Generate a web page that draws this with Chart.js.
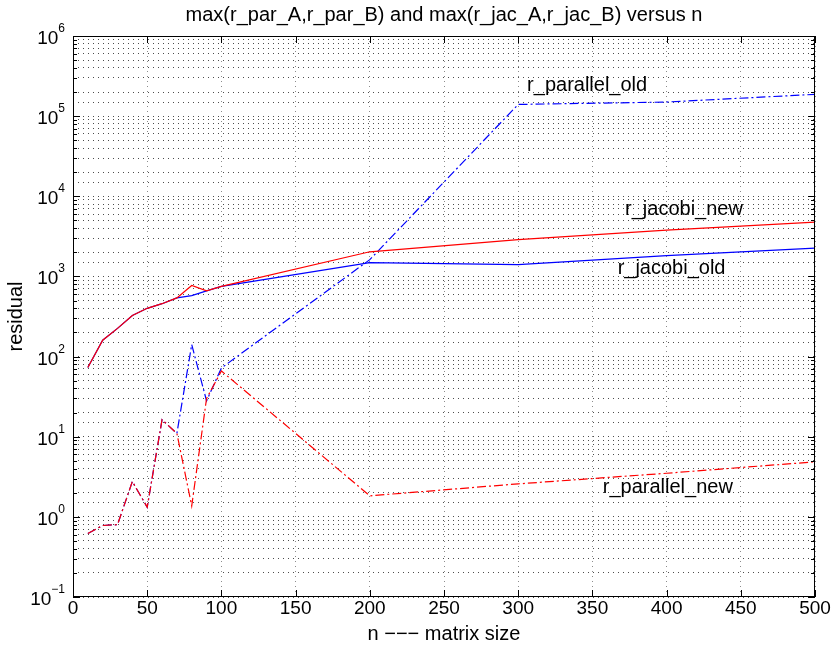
<!DOCTYPE html>
<html>
<head>
<meta charset="utf-8">
<script src="https://cdn.jsdelivr.net/npm/chart.js@4/dist/chart.umd.min.js"></script>
<style>
  html, body { margin: 0; padding: 0; background: #fff; }
  #wrap { width: 833px; height: 648px; }
</style>
</head>
<body>
<div id="wrap"><canvas id="graph" width="833" height="648"></canvas></div>
<script>
// --- data
var nValues = [10, 20, 30, 40, 50, 60, 70, 80, 90, 100, 200, 300, 400, 500];
var rJacobiNew = [73, 160, 225, 325, 400, 457, 540, 770, 660, 750, 2030, 2880, 3780, 4750];
var rJacobiOld = [73, 160, 225, 325, 400, 457, 540, 577, 660, 750, 1490, 1400, 1820, 2250];
var rParallelNew = [0.62, 0.78, 0.8, 2.76, 1.32, 16.3, 11, 1.37, 30, 66, 1.83, 2.58, 3.5, 4.86];
var rParallelOld = [0.62, 0.78, 0.8, 2.76, 1.32, 16.3, 11, 141, 28, 72, 1620, 140000, 150000, 187000];

var xTicks = [0, 50, 100, 150, 200, 250, 300, 350, 400, 450, 500];
var yExponents = [-1, 0, 1, 2, 3, 4, 5, 6];

var titleText = 'max(r_par_A,r_par_B) and max(r_jac_A,r_jac_B) versus n';
var xLabel = 'n \u2212\u2212\u2212 matrix size';
var yLabel = 'residual';

// curve labels (placed like gtext in the original)
var curveLabels = [
    { text: 'r_parallel_old', n: 306, v: 2.44e5 },
    { text: 'r_jacobi_new', n: 372, v: 6.85e3 },
    { text: 'r_jacobi_old', n: 367, v: 1.27e3 },
    { text: 'r_parallel_new', n: 357, v: 2.3 }
];

var FONT = '"Liberation Sans", Arial, Helvetica, sans-serif';

function pts(ys) {
    var out = [];
    for (var i = 0; i < nValues.length; i++) {
        out.push({ x: nValues[i], y: ys[i] });
    }
    return out;
}

// --- texts, box and inward ticks
var decorPlugin = {
    id: 'decor',
    afterDraw: function (chart) {
        var ctx = chart.ctx;
        var a = chart.chartArea;
        var xs = chart.scales.x;
        var ys = chart.scales.y;
        ctx.save();

        // box
        ctx.strokeStyle = '#000';
        ctx.lineWidth = 1;
        ctx.strokeRect(a.left + 0.5, a.top + 0.5, a.right - a.left - 1, a.bottom - a.top - 1);

        // inward ticks, x
        ctx.beginPath();
        xTicks.forEach(function (t) {
            var px = Math.round(xs.getPixelForValue(t)) + 0.5;
            ctx.moveTo(px, a.bottom);
            ctx.lineTo(px, a.bottom - 7);
            ctx.moveTo(px, a.top);
            ctx.lineTo(px, a.top + 7);
        });
        // inward ticks, y (major and minor)
        for (var e = -1; e <= 6; e++) {
            for (var s = 1; s <= 9; s++) {
                var v = s * Math.pow(10, e);
                if (v > 1e6 * 1.0001) continue;
                var py = Math.round(ys.getPixelForValue(v)) + 0.5;
                var len = (s === 1) ? 7 : 4;
                ctx.moveTo(a.left, py);
                ctx.lineTo(a.left + len, py);
                ctx.moveTo(a.right, py);
                ctx.lineTo(a.right - len, py);
            }
        }
        ctx.stroke();

        ctx.fillStyle = '#000';

        // x tick labels
        ctx.font = '19px ' + FONT;
        ctx.textAlign = 'center';
        ctx.textBaseline = 'middle';
        xTicks.forEach(function (t) {
            ctx.fillText(String(t), xs.getPixelForValue(t), a.bottom + 12);
        });

        // y tick labels 10^k
        yExponents.forEach(function (k) {
            var py = ys.getPixelForValue(Math.pow(10, k));
            var ex = String(k).replace('-', '\u2212');
            ctx.font = '12px ' + FONT;
            var ew = ctx.measureText(ex).width;
            var right = a.left - 8;
            ctx.textAlign = 'left';
            ctx.textBaseline = 'alphabetic';
            ctx.fillText(ex, right - ew, py - 4);
            ctx.font = '19px ' + FONT;
            ctx.textAlign = 'right';
            ctx.fillText('10', right - ew, py + 8);
        });

        // title
        ctx.font = '20px ' + FONT;
        ctx.textAlign = 'center';
        ctx.textBaseline = 'middle';
        ctx.fillText(titleText, (a.left + a.right) / 2, 15);

        // x label
        ctx.fillText(xLabel, (a.left + a.right) / 2, 634);

        // y label
        ctx.save();
        ctx.translate(16, (a.top + a.bottom) / 2);
        ctx.rotate(-Math.PI / 2);
        ctx.fillText(yLabel, 0, 0);
        ctx.restore();

        // curve labels
        ctx.textAlign = 'left';
        ctx.textBaseline = 'middle';
        curveLabels.forEach(function (l) {
            ctx.fillText(l.text, xs.getPixelForValue(l.n), ys.getPixelForValue(l.v));
        });

        ctx.restore();
    }
};

var dashDot = [9, 3, 2, 3];

new Chart(document.getElementById('graph'), {
    type: 'line',
    data: {
        datasets: [
            { label: 'r_parallel_new', data: pts(rParallelNew), borderColor: '#ff0000', borderDash: dashDot },
            { label: 'r_jacobi_new', data: pts(rJacobiNew), borderColor: '#ff0000' },
            { label: 'r_parallel_old', data: pts(rParallelOld), borderColor: '#0000ff', borderDash: dashDot },
            { label: 'r_jacobi_old', data: pts(rJacobiOld), borderColor: '#0000ff' }
        ]
    },
    options: {
        responsive: false,
        animation: false,
        devicePixelRatio: 1,
        layout: { padding: { left: 73, right: 18, top: 36, bottom: 51 } },
        elements: {
            line: { borderWidth: 1.2, tension: 0, fill: false },
            point: { radius: 0, hoverRadius: 0 }
        },
        plugins: {
            legend: { display: false },
            title: { display: false },
            tooltip: { enabled: false }
        },
        scales: {
            x: {
                type: 'linear',
                min: 0,
                max: 500,
                ticks: { display: false, stepSize: 50 },
                border: { display: false, dash: [1, 4] },
                grid: {
                    color: 'rgba(0,0,0,0.45)',
                    lineWidth: 1,
                    drawTicks: false
                }
            },
            y: {
                type: 'logarithmic',
                min: 0.1,
                max: 1e6,
                ticks: { display: false },
                border: { display: false, dash: [1, 4] },
                grid: {
                    color: 'rgba(0,0,0,0.7)',
                    lineWidth: 1,
                    drawTicks: false
                }
            }
        }
    },
    plugins: [decorPlugin]
});
</script>
</body>
</html>
